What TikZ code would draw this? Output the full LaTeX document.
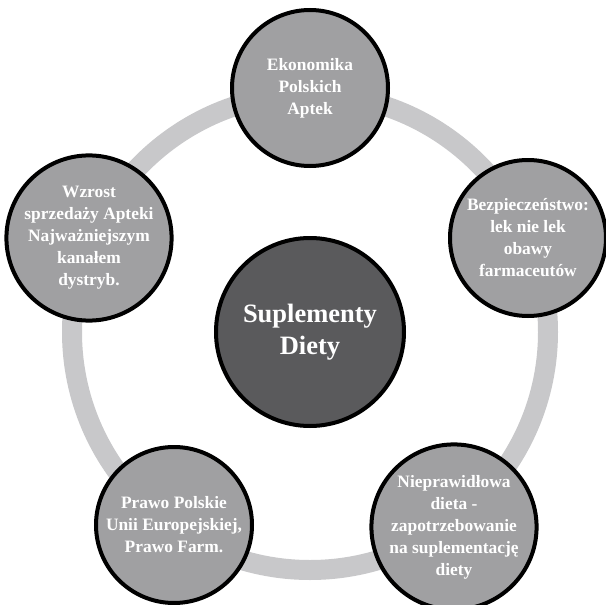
\documentclass[tikz,border=0pt]{standalone}
\usepackage{fontspec}
\setmainfont{Liberation Serif}
\definecolor{ringgray}{RGB}{200,200,202}
\definecolor{outergray}{RGB}{160,160,162}
\definecolor{centergray}{RGB}{90,90,92}
\begin{document}
\begin{tikzpicture}[x=1pt,y=-1pt,
  outer/.style={circle,draw=black,line width=4pt,fill=outergray,minimum size=156pt,inner sep=0pt,
    text=white,align=center,font=\fontsize{17.4}{22}\selectfont\bfseries},
  hub/.style={circle,draw=black,line width=4pt,fill=centergray,minimum size=188pt,inner sep=0pt,
    text=white,align=center,font=\fontsize{26.5}{32}\selectfont\bfseries},
  ringline/.style={draw=ringgray,line width=20pt}]
\useasboundingbox (0,0) rectangle (606,605);
\coordinate (c) at (310,332);
\draw[ringline] (c) circle[radius=238];
\node[hub] (hubn) at (c) {Suplementy\\Diety};
\node[outer] (top) at (310,88) {Ekonomika\\Polskich\\Aptek};
\node[outer] (right) at (528,238) {Bezpieczeństwo:\\lek nie lek\\obawy\\farmaceutów};
\node[outer] (br) at (454,527) {Nieprawidłowa\\dieta -\\zapotrzebowanie\\na suplementację\\diety};
\node[outer] (bl) at (174,525) {Prawo Polskie\\Unii Europejskiej,\\Prawo Farm.};
\node[outer] (left) at (89,238) {Wzrost\\sprzedaży Apteki\\Najważniejszym\\kanałem\\dystryb.};
\end{tikzpicture}
\end{document}
